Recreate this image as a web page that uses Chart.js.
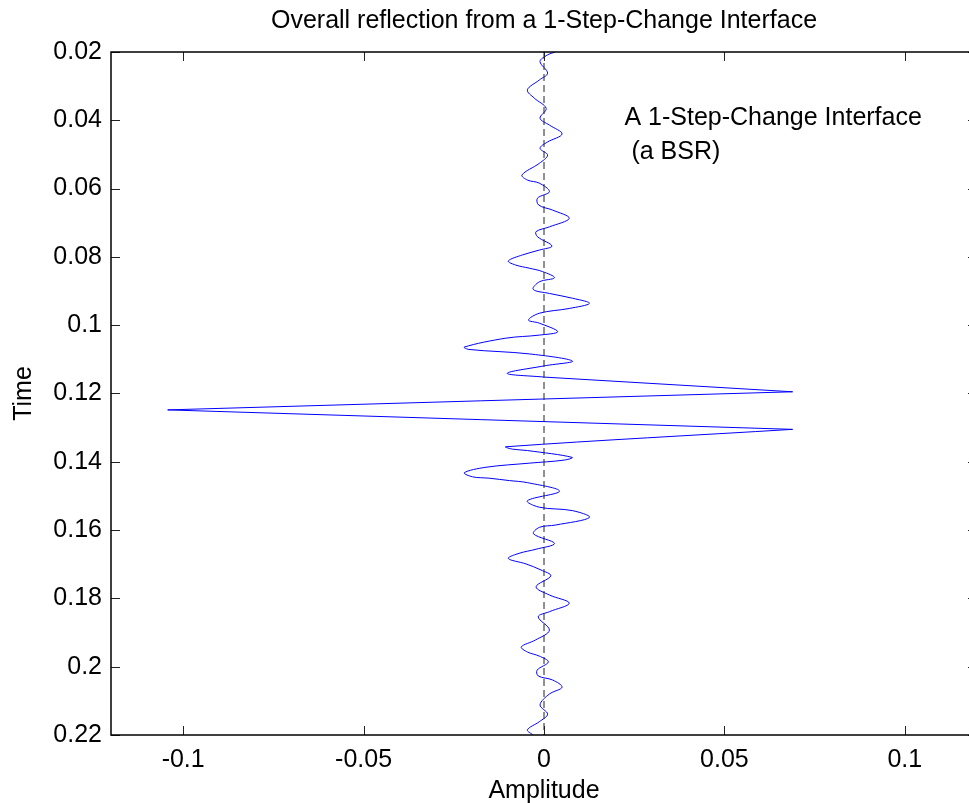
<!DOCTYPE html>
<html>
<head>
<meta charset="utf-8">
<script src="https://cdn.jsdelivr.net/npm/chart.js@4.4.1/dist/chart.umd.min.js"></script>
<style>
  html, body { margin: 0; padding: 0; background: #fff; overflow: hidden; }
  #wrap { width: 969px; height: 803px; overflow: hidden; }
</style>
</head>
<body>
<div id="wrap"><canvas id="trace_chart" width="1088" height="803"></canvas></div>
<script>
// reflection trace (time in s, amplitude)
const TIME = [0.0200, 0.0209, 0.0228, 0.0262, 0.0282, 0.0311, 0.0335, 0.0365, 0.0394, 0.0414,
    0.0440, 0.0464, 0.0482, 0.0502, 0.0526, 0.0560, 0.0575, 0.0584, 0.0609, 0.0628,
    0.0648, 0.0663, 0.0687, 0.0712, 0.0726, 0.0741, 0.0768, 0.0780, 0.0794, 0.0812,
    0.0824, 0.0833, 0.0843, 0.0861, 0.0873, 0.0895, 0.0907, 0.0921, 0.0936, 0.0951,
    0.0965, 0.0985, 0.0994, 0.1019, 0.1029, 0.1038, 0.1064, 0.1071, 0.1084, 0.1105,
    0.1119, 0.1141, 0.1152, 0.1195, 0.1248, 0.1305, 0.1356, 0.1363, 0.1367, 0.1387,
    0.1395, 0.1404, 0.1416, 0.1432, 0.1444, 0.1448, 0.1455, 0.1461, 0.1486, 0.1514,
    0.1533, 0.1543, 0.1563, 0.1585, 0.1592, 0.1611, 0.1639, 0.1656, 0.1668, 0.1683,
    0.1699, 0.1717, 0.1734, 0.1766, 0.1790, 0.1814, 0.1839, 0.1854, 0.1893, 0.1922,
    0.1942, 0.1957, 0.1969, 0.1986, 0.2010, 0.2027, 0.2039, 0.2060, 0.2080, 0.2112,
    0.2139, 0.2161, 0.2185, 0.2200];
const AMP = [0.0031, 0.0009, -0.0011, 0.0010, -0.0013, -0.0046, -0.0027, 0.0006, -0.0011, 0.0015,
    0.0050, 0.0009, -0.0011, 0.0010, -0.0013, -0.0061, -0.0046, -0.0013, 0.0015, -0.0018,
    -0.0015, 0.0024, 0.0070, 0.0015, -0.0022, -0.0018, 0.0022, -0.0013, -0.0059, -0.0099,
    -0.0078, -0.0041, -0.0004, 0.0029, -0.0013, -0.0030, 0.0015, 0.0079, 0.0126, 0.0070,
    -0.0013, -0.0043, -0.0013, 0.0038, -0.0013, -0.0106, -0.0221, -0.0208, -0.0041, 0.0079,
    0.0001, -0.0102, 0.0001, 0.0689, -0.1043, 0.0689, -0.0106, -0.0087, -0.0046, 0.0078,
    0.0056, -0.0041, -0.0161, -0.0221, -0.0198, -0.0152, -0.0096, -0.0046, 0.0043, -0.0046,
    -0.0013, 0.0079, 0.0126, 0.0033, -0.0013, -0.0029, 0.0029, -0.0022, -0.0069, -0.0099,
    -0.0050, -0.0008, 0.0019, -0.0022, 0.0015, 0.0070, 0.0015, -0.0016, 0.0015, -0.0024,
    -0.0063, -0.0046, -0.0013, 0.0012, -0.0019, -0.0016, 0.0024, 0.0050, 0.0015, -0.0011,
    0.0010, -0.0013, -0.0046, -0.0030];

// the big spikes are drawn straight, the small wiggles smoothed
const SPIKE_START = 52;
const SPIKE_END = 55;

// dashed zero line
const ZERO_AMP = [0, 0];
const ZERO_TIME = [0.02, 0.22];

const X_TICKS = [-0.1, -0.05, 0, 0.05, 0.1];
const Y_TICKS = [0.02, 0.04, 0.06, 0.08, 0.1, 0.12, 0.14, 0.16, 0.18, 0.2, 0.22];

const TITLE = "Overall reflection from a 1-Step-Change Interface";
const NOTE_LINES = ["A 1-Step-Change Interface", " (a BSR)"];
const NOTE_AMP = 0.0223;
const NOTE_TIME = 0.0414;

const FONT = '"Liberation Sans", Arial, Helvetica, sans-serif';
Chart.defaults.font.family = FONT;
Chart.defaults.font.size = 25;
Chart.defaults.color = "#000";

const trace = TIME.map((t, i) => ({ x: AMP[i], y: t }));
const zero = ZERO_TIME.map((t, i) => ({ x: ZERO_AMP[i], y: t }));

function fmt(v) {
    return String(+v.toFixed(3));
}

function traceSet(points, tension) {
    return {
        data: points,
        showLine: true,
        borderColor: "#0000ff",
        borderWidth: 1,
        pointRadius: 0,
        tension: tension
    };
}

// matlab style box with inward ticks, title and the text note
const boxPlugin = {
    id: "box",
    afterDatasetsDraw(chart) {
        const ctx = chart.ctx;
        const a = chart.chartArea;
        const xs = chart.scales.x;
        const ys = chart.scales.y;
        ctx.save();
        ctx.strokeStyle = "#222";
        ctx.lineWidth = 1;
        ctx.beginPath();
        X_TICKS.forEach(v => {
            const px = Math.round(xs.getPixelForValue(v)) + 0.5;
            ctx.moveTo(px, a.bottom); ctx.lineTo(px, a.bottom - 9);
            ctx.moveTo(px, a.top); ctx.lineTo(px, a.top + 9);
        });
        Y_TICKS.forEach(v => {
            const py = Math.round(ys.getPixelForValue(v)) + 0.5;
            ctx.moveTo(a.left, py); ctx.lineTo(a.left + 9, py);
            ctx.moveTo(a.right, py); ctx.lineTo(a.right - 9, py);
        });
        ctx.stroke();

        ctx.strokeStyle = "#000";
        ctx.lineWidth = 1.5;
        ctx.strokeRect(a.left, a.top, a.right - a.left, a.bottom - a.top);

        ctx.fillStyle = "#000";
        ctx.font = "25px " + FONT;
        ctx.textAlign = "center";
        ctx.textBaseline = "alphabetic";
        ctx.fillText(TITLE, (a.left + a.right) / 2, 28);

        ctx.textAlign = "left";
        const nx = xs.getPixelForValue(NOTE_AMP);
        const ny = ys.getPixelForValue(NOTE_TIME);
        NOTE_LINES.forEach((s, i) => ctx.fillText(s, nx, ny + i * 34));
        ctx.restore();
    }
};

const config = {
    type: "scatter",
    data: {
        datasets: [
            {
                data: zero,
                showLine: true,
                borderColor: "#222",
                borderWidth: 1,
                borderDash: [7, 4],
                pointRadius: 0
            },
            traceSet(trace.slice(0, SPIKE_START + 1), 0.35),
            traceSet(trace.slice(SPIKE_START, SPIKE_END + 1), 0),
            traceSet(trace.slice(SPIKE_END), 0.35)
        ]
    },
    options: {
        responsive: false,
        animation: false,
        devicePixelRatio: 1,
        layout: { padding: { left: 0, right: 111, top: 52, bottom: 0 } },
        plugins: {
            legend: { display: false },
            tooltip: { enabled: false },
            title: { display: false }
        },
        scales: {
            x: {
                type: "linear",
                min: -0.12,
                max: 0.12,
                afterBuildTicks: s => { s.ticks = X_TICKS.map(v => ({ value: v })); },
                afterFit: s => { s.height = 68; },
                grid: { display: false, drawTicks: false },
                border: { display: false },
                ticks: { padding: 10, maxRotation: 0, callback: v => fmt(v) },
                title: { display: true, text: "Amplitude", padding: { top: 0, bottom: -3 } }
            },
            y: {
                type: "linear",
                reverse: true,
                min: 0.02,
                max: 0.22,
                afterBuildTicks: s => { s.ticks = Y_TICKS.map(v => ({ value: v })); },
                afterFit: s => { s.width = 111; },
                grid: { display: false, drawTicks: false },
                border: { display: false },
                ticks: { padding: 9, callback: v => fmt(v) },
                title: { display: true, text: "Time", padding: { top: 9, bottom: 0 } }
            }
        }
    },
    plugins: [boxPlugin]
};

let trace_chart = new Chart(document.getElementById("trace_chart"), config);
</script>
</body>
</html>
